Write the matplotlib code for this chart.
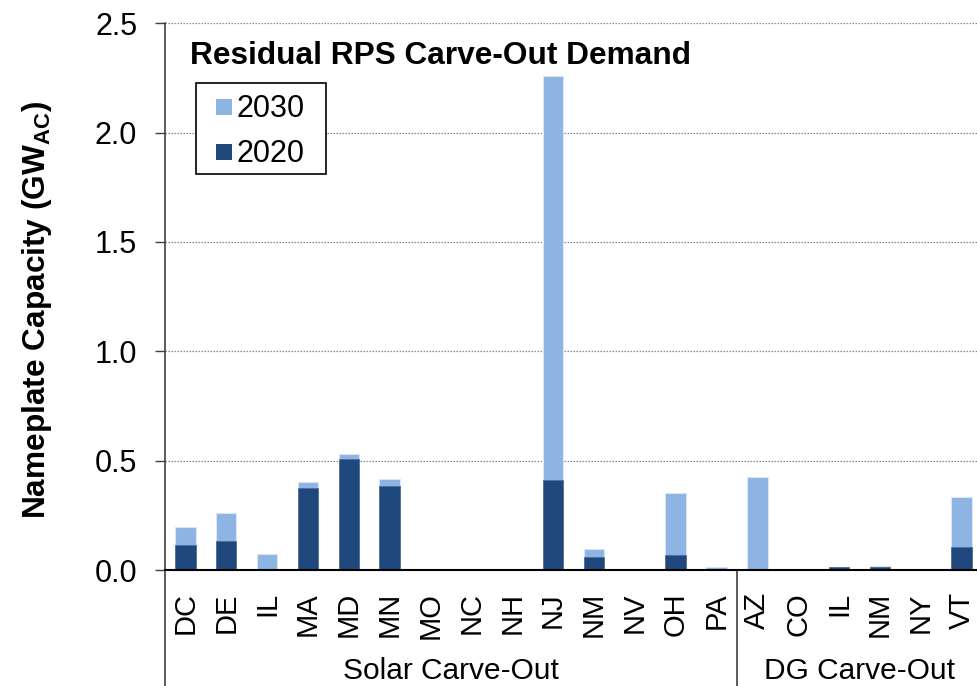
import matplotlib
matplotlib.use("Agg")
import matplotlib.pyplot as plt
from matplotlib.lines import Line2D
from matplotlib.patches import Rectangle
import numpy as np

plt.rcParams['font.family'] = ['Liberation Sans', 'DejaVu Sans']
plt.rcParams['mathtext.fontset'] = 'custom'
plt.rcParams['mathtext.rm'] = 'Liberation Sans'
plt.rcParams['mathtext.bf'] = 'Liberation Sans:bold'

# ---- data ----
categories = ["DC", "DE", "IL", "MA", "MD", "MN", "MO", "NC", "NH", "NJ", "NM", "NV", "OH", "PA",
              "AZ", "CO", "IL", "NM", "NY", "VT"]
groups = ["Solar Carve-Out", "DG Carve-Out"]
group_sizes = [14, 6]
demand_2030 = [0.195, 0.261, 0.073, 0.401, 0.530, 0.415, 0.0, 0.0, 0.0, 2.26, 0.096, 0.0, 0.351, 0.012,
               0.424, 0.0, 0.012, 0.018, 0.0, 0.332]
demand_2020 = [0.114, 0.134, 0.0, 0.376, 0.508, 0.386, 0.0, 0.0, 0.0, 0.413, 0.061, 0.0, 0.070, 0.0,
               0.0, 0.0, 0.012, 0.012, 0.0, 0.104]
yticks = [0.0, 0.5, 1.0, 1.5, 2.0, 2.5]
series_labels = ["2030", "2020"]
title = "Residual RPS Carve-Out Demand"
ylabel = r"Nameplate Capacity (GW$_{\mathbf{AC}}$)"

c2030 = "#8EB4E3"
c2020 = "#1F497D"

W, H = 977, 686
fig = plt.figure(figsize=(W / 100, H / 100), dpi=100)
ax = fig.add_axes([165 / W, (H - 570) / H, (982 - 165) / W, (570 - 23.3) / H])

x = np.arange(len(categories))
ax.bar(x, demand_2030, width=0.5, color=c2030, edgecolor="#DCE6F2", linewidth=0.8, zorder=2)
ax.bar(x, demand_2020, width=0.5, color=c2020, edgecolor="#4F6F99", linewidth=0.6, zorder=3)

ax.set_xlim(-0.5, len(categories) - 0.5)
ax.set_ylim(0, 2.5)
ax.set_yticks(yticks)
ax.set_yticklabels([f"{v:.1f}" for v in yticks], fontsize=22)
ax.set_xticks(x)
ax.set_xticklabels(categories, rotation=90, fontsize=21)
ax.tick_params(axis='x', length=0, pad=16)
ax.tick_params(axis='y', direction='out', length=7, width=1, pad=13, color='#404040')

ax.yaxis.grid(True, linestyle=(0, (1.2, 1.2)), color='#888888', linewidth=0.9, zorder=0)
ax.set_axisbelow(True)
for s in ['top', 'right']:
    ax.spines[s].set_visible(False)
ax.spines['left'].set_color('#404040')
ax.spines['left'].set_linewidth(1.2)
ax.spines['bottom'].set_color('black')
ax.spines['bottom'].set_linewidth(1.5)
ax.spines['bottom'].set_zorder(5)

# group separators and labels below the axis
trans = ax.get_xaxis_transform()
ybot = -(686 - 570) / (570 - 23.3) - 0.02
bounds = np.cumsum([0] + group_sizes) - 0.5
for b in bounds[:-1]:
    ax.add_line(Line2D([b, b], [0, ybot], transform=trans, color='#404040', lw=1.2, clip_on=False))
for g, lo, hi in zip(groups, bounds[:-1], bounds[1:]):
    ax.text((lo + hi) / 2, -(679 - 570) / (570 - 23.3), g, transform=trans, ha='center', va='baseline',
            fontsize=21.5)

# title
fig.text(190 / W, 1 - 64 / H, title, fontsize=22.8, fontweight='bold', ha='left', va='baseline')

# y label
fig.text(37 / W, 1 - 310 / H, ylabel, rotation=90, fontsize=22.8, fontweight='bold', ha='center', va='center')

# legend (frame, swatches and labels placed in figure pixels)
def fx(px):
    return px / W

def fy(py):
    return 1 - py / H

fig.add_artist(Rectangle((fx(196), fy(174)), fx(326) - fx(196), fy(83) - fy(174),
                         transform=fig.transFigure, facecolor='white', edgecolor='black', lw=1.2, zorder=10))
for lab, col, base in zip(series_labels, [c2030, c2020], [117, 162]):
    fig.add_artist(Rectangle((fx(216), fy(base - 2)), fx(16), 16 / H, transform=fig.transFigure,
                             facecolor=col, edgecolor='none', zorder=11))
    fig.text(fx(236), fy(base), lab, fontsize=22, ha='left', va='baseline', zorder=12)

fig.savefig("out.png", dpi=100)
